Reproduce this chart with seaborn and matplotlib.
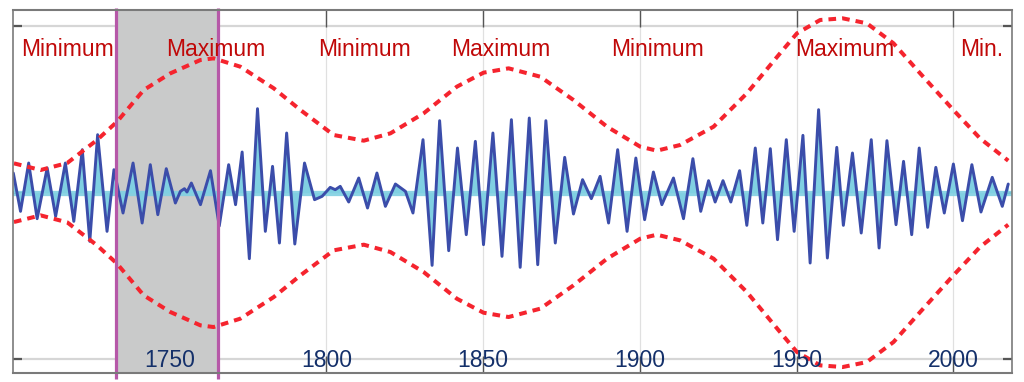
import numpy as np
import pandas as pd
import matplotlib
matplotlib.use("Agg")
import matplotlib.pyplot as plt
import matplotlib.transforms as mtransforms
from matplotlib import font_manager as fm
import seaborn as sns

# ---------------- data ----------------
cycle_years = [1700.1, 1702.4, 1705.0, 1707.7, 1710.9, 1713.6, 1716.7, 1719.4, 1722.1, 1724.5,
               1727.0, 1730.0, 1732.2, 1735.1, 1738.3, 1741.2, 1743.8, 1746.2, 1748.9, 1751.8,
               1753.4, 1754.7, 1755.5, 1756.9, 1759.8, 1763.0, 1765.8, 1768.8, 1771.0, 1773.1,
               1775.4, 1778.0, 1780.5, 1782.8, 1785.0, 1787.3, 1789.9, 1793.0, 1796.2, 1798.6,
               1801.2, 1802.8, 1804.4, 1807.1, 1810.3, 1813.1, 1816.1, 1818.8, 1822.0, 1825.2,
               1827.6, 1830.8, 1833.7, 1836.1, 1839.0, 1841.8, 1844.6, 1847.5, 1850.1, 1853.1,
               1856.0, 1859.0, 1861.8, 1864.7, 1867.4, 1870.0, 1873.0, 1876.0, 1878.8, 1881.7,
               1884.5, 1887.3, 1890.0, 1892.9, 1895.9, 1898.7, 1901.5, 1904.3, 1907.0, 1910.7,
               1913.9, 1916.9, 1919.4, 1921.9, 1924.0, 1926.5, 1929.0, 1931.8, 1934.1, 1936.8,
               1939.2, 1941.6, 1943.9, 1946.7, 1949.2, 1952.0, 1954.3, 1957.0, 1959.8, 1962.8,
               1964.9, 1967.8, 1970.6, 1973.8, 1976.3, 1978.8, 1981.7, 1984.1, 1986.7, 1989.1,
               1991.8, 1994.4, 1997.1, 2000.0, 2002.9, 2005.9, 2008.8, 2012.4, 2015.6, 2017.5]
cycle_values = [59, -56, 89, -78, 74, -71, 89, -86, 129, -146,
                174, -116, 69, -61, 89, -91, 84, -66, 72, -31,
                4, 12, 2, 29, -36, 66, -100, 84, -36, 122,
                -198, 252, -116, 79, -151, 179, -154, 89, -21, -11,
                16, 9, 19, -28, 44, -46, 59, -41, 26, 4,
                -61, 159, -218, 216, -174, 134, -126, 154, -156, 179,
                -191, 219, -224, 224, -216, 216, -151, 106, -64, 39,
                -18, 49, -91, 129, -116, 104, -81, 62, -36, 44,
                -78, 102, -56, 36, -28, 36, -28, 66, -98, 134,
                -91, 132, -141, 159, -116, 172, -211, 249, -196, 136,
                -98, 119, -121, 159, -166, 156, -96, 94, -126, 134,
                -104, 76, -61, 86, -84, 84, -58, 46, -41, 26]

envelope_years = [1700.3, 1708.8, 1717.3, 1726.8, 1733.2, 1741.7, 1750.2, 1759.8, 1764.0, 1772.5,
                  1783.2, 1791.7, 1802.3, 1811.9, 1820.4, 1831.0, 1841.6, 1850.1, 1858.1, 1868.2,
                  1878.8, 1889.5, 1900.1, 1905.4, 1912.8, 1923.5, 1934.1, 1944.7, 1950.1, 1957.5,
                  1964.7, 1972.4, 1980.9, 1989.4, 2000.0, 2008.5, 2017.5]
envelope_values = [88, 68, 89, 158, 213, 308, 358, 398, 403, 378,
                   313, 248, 173, 156, 178, 238, 318, 360, 373, 348,
                   278, 198, 138, 126, 143, 198, 298, 418, 478, 518,
                   523, 508, 448, 358, 248, 163, 96]

phase_labels = ["Minimum", "Maximum", "Minimum", "Maximum", "Minimum", "Maximum", "Min."]
phase_years = [1717.4, 1764.6, 1812.2, 1855.7, 1905.5, 1965.2, 2008.9]

tick_years = [1750, 1800, 1850, 1900, 1950, 2000]
tick_labels = ["1750", "1800", "1850", "1900", "1950", "2000"]

shaded_period = [1733.0, 1765.5]

# ---------------- style ----------------
sns.set_style("white")


def pick_font(cands):
    for f in cands:
        try:
            fm.findfont(fm.FontProperties(family=f), fallback_to_default=False)
            return f
        except Exception:
            continue
    return "DejaVu Sans"


narrow = pick_font(["Liberation Sans Narrow"])
if narrow == "Liberation Sans Narrow":
    font_fam, font_size = narrow, 20
else:
    font_fam, font_size = pick_font(["Liberation Sans", "Arial"]), 16.5
plt.rcParams["font.family"] = [font_fam, "DejaVu Sans"]

LINE_BLUE = "#3b4daa"
FILL_BLUE = "#80d0e2"
ENV_RED = "#f5242e"
LABEL_RED = "#c00808"
TICK_NAVY = "#14306a"
MAGENTA = "#b658a8"
GRAY_BAND = "#c9caca"

fig = plt.figure(figsize=(10.24, 3.82), dpi=100)
ax = fig.add_axes([13 / 1024, 9.3 / 382, 999 / 1024, 362.7 / 382])

df = pd.DataFrame({"year": cycle_years, "value": cycle_values})
env = pd.DataFrame({"year": envelope_years, "upper": envelope_values})
env["lower"] = -env["upper"]

ax.set_xlim(1700, 2018.7)
ax.set_ylim(-540, 548)

# grid
for ty in tick_years:
    ax.axvline(ty, color="#e0e0e0", lw=0.9, zorder=0.5)
for gy in (-500, 500):
    ax.axhline(gy, color="#d6d6d6", lw=1.6, zorder=0.5)

# shaded period
ax.axvspan(shaded_period[0], shaded_period[1], color=GRAY_BAND, zorder=0.8, lw=0)
trans = mtransforms.blended_transform_factory(ax.transData, ax.transAxes)
for px in shaded_period:
    ax.plot([px, px], [-0.018, 1.006], transform=trans, color=MAGENTA, lw=2.3,
            clip_on=False, zorder=6, solid_capstyle="butt")

# zero band + fill + line
ax.axhline(0, color=FILL_BLUE, lw=3.8, alpha=0.9, zorder=1)
ax.fill_between(df["year"], 0, df["value"], color=FILL_BLUE, lw=0, zorder=1.2)
sns.lineplot(data=df, x="year", y="value", ax=ax, color=LINE_BLUE, lw=2.1,
             zorder=3, estimator=None, sort=False)
ax.get_lines()[-1].set_solid_joinstyle("round")

# envelope
for col in ("upper", "lower"):
    sns.lineplot(data=env, x="year", y=col, ax=ax, color=ENV_RED, lw=2.9,
                 dashes=False, zorder=4, estimator=None, sort=False)
for line in ax.get_lines()[-2:]:
    line.set_linestyle((0, (1.9, 1.5)))

# phase labels
for txt, yr in zip(phase_labels, phase_years):
    ax.text(yr, 0.872, txt, transform=trans, ha="center", va="baseline",
            color=LABEL_RED, fontsize=font_size, zorder=7)

# x tick labels inside the plot
for lab, yr in zip(tick_labels, tick_years):
    ax.text(yr, 0.017, lab, transform=trans, ha="center", va="baseline",
            color=TICK_NAVY, fontsize=font_size, zorder=7)

# ticks
ax.set_xticks(tick_years)
ax.set_xticklabels([])
ax.set_yticks([-500, 0, 500])
ax.set_yticklabels([])
ax.tick_params(axis="x", which="both", direction="in", length=12.5, width=1.0,
               color="#555555", top=True, bottom=True)
ax.tick_params(axis="y", which="both", direction="in", length=6.5, width=1.6,
               color="#555555", left=True, right=True)
ax.set_xlabel("")
ax.set_ylabel("")

for side, sp in ax.spines.items():
    sp.set_color("#7a7a7a")
    sp.set_linewidth(1.5 if side in ("top", "bottom") else 1.2)
    sp.set_zorder(8)

fig.savefig("out.png", dpi=100)
